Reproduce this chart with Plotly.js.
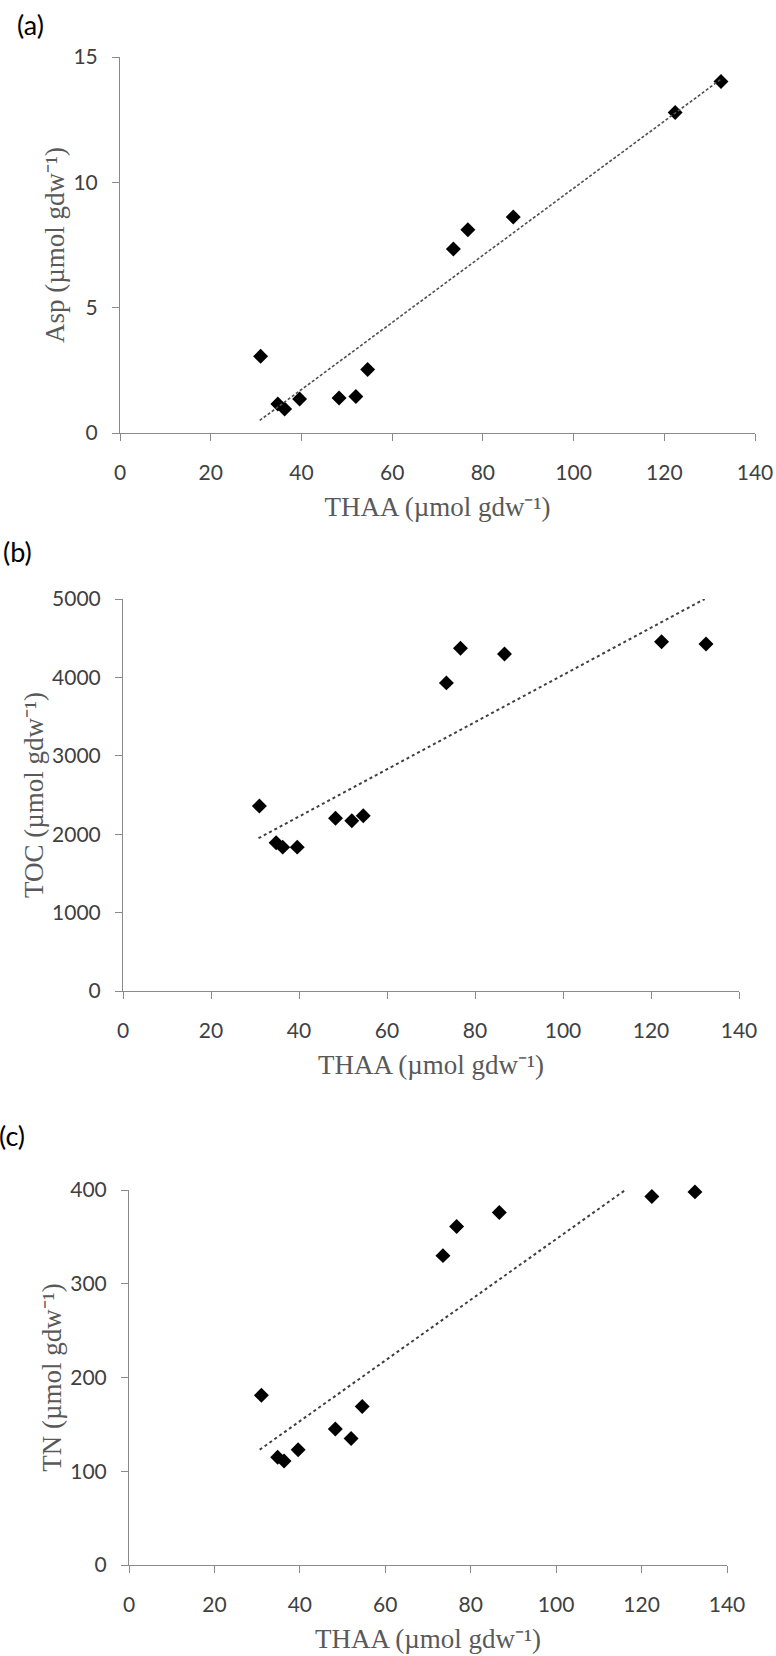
<!DOCTYPE html>
<html>
<head>
<meta charset="utf-8">
<script src="https://cdn.plot.ly/plotly-3.0.1.min.js"></script>
<style>html,body{margin:0;padding:0;background:#fff;}#chart{width:776px;height:1656px;}</style>
</head>
<body>
<div id="chart"></div>
<script>
// Shared x values: THAA (µmol gdw-1)
const thaa = [31.0, 34.8, 36.3, 39.6, 48.3, 52.0, 54.6, 73.5, 76.7, 86.7, 122.4, 132.5];
// Panel (a) Asp
const asp = [3.06, 1.16, 0.96, 1.36, 1.40, 1.46, 2.53, 7.34, 8.11, 8.62, 12.79, 14.02];
// Panel (b) TOC
const toc = [2359, 1890, 1835, 1835, 2204, 2172, 2236, 3930, 4372, 4299, 4454, 4426];
// Panel (c) TN
const tn = [181, 115, 111, 123, 145, 135, 169, 330, 361, 376, 393, 398];
// Trend lines (end points)
const trendAx = [30.8, 132.4], trendAy = [0.5, 14.1];
const trendBx = [30.8, 132.2], trendBy = [1949, 5000];
const trendCx = [30.6, 116.5], trendCy = [123, 401];
// Labels
const panelLabels = ['(a)', '(b)', '(c)'];
const xTitle = 'THAA (µmol gdw⁻¹)';
const yTitles = ['Asp (µmol gdw⁻¹)', 'TOC (µmol gdw⁻¹)', 'TN (µmol gdw⁻¹)'];

const W = 776, H = 1656;
const px = v => v / W;
const py = v => 1 - v / H;

const marker = {symbol: 'diamond', size: 11.5, color: '#000000'};
const traces = [
  {x: thaa, y: asp, xaxis: 'x', yaxis: 'y', mode: 'markers', type: 'scatter', marker: marker, cliponaxis: false},
  {x: trendAx, y: trendAy, xaxis: 'x', yaxis: 'y', mode: 'lines', type: 'scatter', line: {color: '#505050', width: 1.6, dash: '3px,2px'}, cliponaxis: false},
  {x: thaa, y: toc, xaxis: 'x2', yaxis: 'y2', mode: 'markers', type: 'scatter', marker: marker, cliponaxis: false},
  {x: trendBx, y: trendBy, xaxis: 'x2', yaxis: 'y2', mode: 'lines', type: 'scatter', line: {color: '#404040', width: 2, dash: 'dot'}, cliponaxis: false},
  {x: thaa, y: tn, xaxis: 'x3', yaxis: 'y3', mode: 'markers', type: 'scatter', marker: marker, cliponaxis: false},
  {x: trendCx, y: trendCy, xaxis: 'x3', yaxis: 'y3', mode: 'lines', type: 'scatter', line: {color: '#404040', width: 2, dash: 'dot'}, cliponaxis: false}
];

const tickFont = {family: 'Lato, "Open Sans", sans-serif', size: 21, color: '#404040'};
const titleFont = {family: '"Liberation Serif", "Times New Roman", serif', size: 27, color: '#595959'};
const panelFont = {family: 'Lato, sans-serif', size: 27, color: '#000'};

function xa(domain, anchor) {
  return {domain: domain, anchor: anchor, range: [0, 140], dtick: 20, tick0: 0,
    showline: true, linecolor: '#8a8a8a', linewidth: 1, ticks: 'outside', ticklen: 7, tickcolor: '#8a8a8a',
    showgrid: false, zeroline: false, tickfont: tickFont, ticklabelstandoff: 14, fixedrange: true,
    title: {text: xTitle, font: titleFont, standoff: 13}};
}
function ya(domain, anchor, range, dtick, title) {
  return {domain: domain, anchor: anchor, range: range, dtick: dtick, tick0: 0,
    showline: true, linecolor: '#8a8a8a', linewidth: 1, ticks: 'outside', ticklen: 7, tickcolor: '#8a8a8a',
    showgrid: false, zeroline: false, tickfont: tickFont, ticklabelstandoff: 10, fixedrange: true,
    title: {text: title, font: titleFont, standoff: 0}};
}

const layout = {
  width: W, height: H, showlegend: false,
  margin: {l: 0, r: 0, t: 0, b: 0},
  paper_bgcolor: '#ffffff', plot_bgcolor: '#ffffff',
  xaxis: xa([px(120), px(755)], 'y'),
  yaxis: ya([py(433), py(57)], 'x', [0, 15], 5, yTitles[0]),
  xaxis2: xa([px(123), px(739)], 'y2'),
  yaxis2: ya([py(991), py(599)], 'x2', [0, 5000], 1000, yTitles[1]),
  xaxis3: xa([px(129), px(727)], 'y3'),
  yaxis3: ya([py(1565), py(1190)], 'x3', [0, 400], 100, yTitles[2]),
  annotations: [
    {text: panelLabels[0], x: px(30), y: py(25), xref: 'paper', yref: 'paper', showarrow: false, xanchor: 'center', yanchor: 'middle', font: panelFont},
    {text: panelLabels[1], x: px(17), y: py(552), xref: 'paper', yref: 'paper', showarrow: false, xanchor: 'center', yanchor: 'middle', font: panelFont},
    {text: panelLabels[2], x: px(12), y: py(1135), xref: 'paper', yref: 'paper', showarrow: false, xanchor: 'center', yanchor: 'middle', font: panelFont}
  ]
};

Plotly.newPlot('chart', traces, layout, {displayModeBar: false, staticPlot: true});
</script>
</body>
</html>
